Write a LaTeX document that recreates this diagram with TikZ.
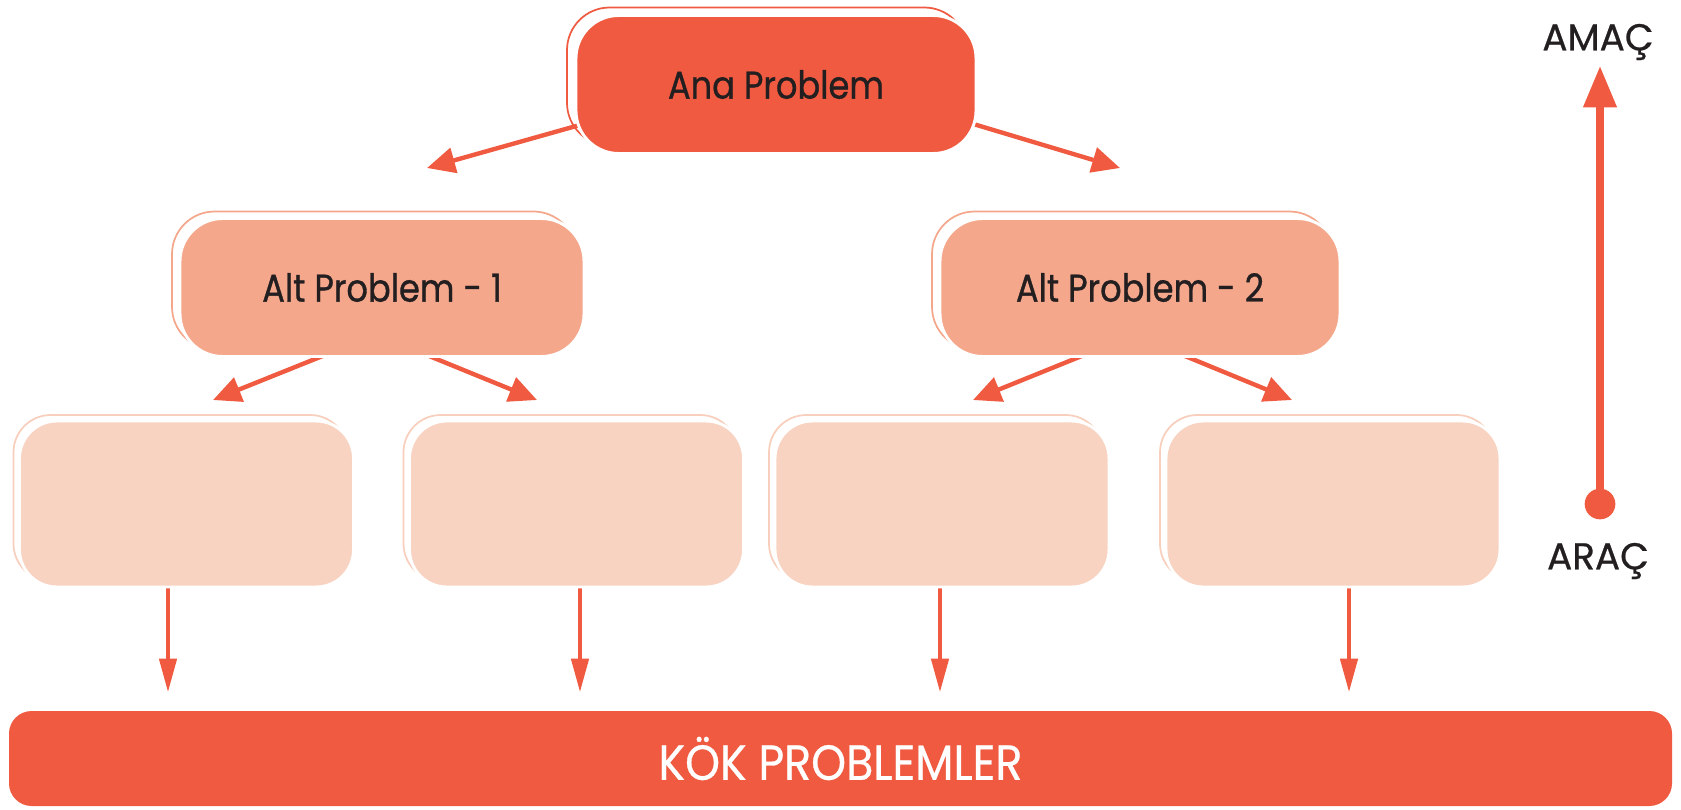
\documentclass[tikz,border=0pt]{standalone}
\usepackage{fontspec}
\setmainfont{Poppins}[FakeStretch=0.87,FakeBold=0.8]
\newfontfamily\kokfont{Poppins}[FakeStretch=0.9,FakeBold=0.6]
\newfontfamily\sidefont{Poppins}[FakeStretch=1.0,FakeBold=0.6]
\usetikzlibrary{arrows.meta,calc}
\pgfdeclarelayer{back}
\pgfdeclarelayer{bg}
\pgfsetlayers{back,bg,main}
\definecolor{dark}{HTML}{EF5A40}
\definecolor{mid}{HTML}{F4A78B}
\definecolor{light}{HTML}{F9D3C1}
\definecolor{txt}{HTML}{231F20}
\newcommand\pxu{0.75pt}
\tikzset{
  box/.style={rectangle, draw=white, line width=2.2pt, inner sep=0pt, outer sep=0pt, text=txt, font=\fontsize{29}{34}\selectfont},
  bigbox/.style={box, rounded corners=32pt, minimum width=400*\pxu, minimum height=138*\pxu},
  leafbox/.style={box, fill=light, rounded corners=28pt, minimum width=334*\pxu, minimum height=166*\pxu},
  ol/.style={draw=#1, line width=1.3pt},
  arr/.style={draw=dark, line width=3.3pt, -{Triangle[length=21pt,width=19pt]}},
  darr/.style={draw=dark, line width=2.6pt, -{Triangle[length=25pt,width=13pt]}},
  varr/.style={draw=dark, line width=5.4pt, -{Triangle[length=31pt,width=24pt]}},
  side/.style={text=txt, font=\sidefont\fontsize{28}{32}\selectfont, inner sep=0pt}
}
\begin{document}
\begin{tikzpicture}[x=0.75pt,y=-0.75pt]
\begin{pgfonlayer}{back}
\fill[white] (0,0) rectangle (1681,810);
\end{pgfonlayer}
\useasboundingbox (0,0) rectangle (1681,810);

% nodes
\node[bigbox, fill=dark] (ana) at (776,84.5) {Ana Problem};
\node[bigbox, fill=mid, minimum width=404*\pxu] (alt1) at (382,287.5) {Alt Problem - 1};
\node[bigbox, fill=mid] (alt2) at (1140,287.5) {Alt Problem - 2};
\node[leafbox] (l1) at (186.5,504) {};
\node[leafbox] (l2) at (576.5,504) {};
\node[leafbox] (l3) at (942,504) {};
\node[leafbox] (l4) at (1333,504) {};
\node[rectangle, fill=dark, rounded corners=17pt, minimum width=1663*\pxu, minimum height=95*\pxu, inner sep=0pt, outer sep=0pt, text=white, font=\kokfont\fontsize{37}{40}\selectfont] (kok) at (840.5,758.5) {KÖK PROBLEMLER};

\node[side] (amac) at (1598,42) {AMAÇ};
\node[side] (arac) at (1598,561) {ARAÇ};
\fill[dark] (1600,504) circle (11.5pt);
\coordinate (dot) at (1600,504);
\coordinate (top) at (1600,66);

% arrow tips
\coordinate (a1) at (427,168);
\coordinate (a2) at (1120,168);
\coordinate (b1) at (213,400);
\coordinate (b2) at (537,400);
\coordinate (b3) at (973,400);
\coordinate (b4) at (1292,400);
\coordinate (c1) at (168,692);
\coordinate (c2) at (580,692);
\coordinate (c3) at (940,692);
\coordinate (c4) at (1349,692);

\begin{pgfonlayer}{bg}
  % offset outlines
  \draw[ol=dark, rounded corners=32pt] ([shift={(-9,-8)}]ana.north west) rectangle ([shift={(-9,-8)}]ana.south east);
  \draw[ol=mid, rounded corners=32pt] ([shift={(-8,-7)}]alt1.north west) rectangle ([shift={(-8,-7)}]alt1.south east);
  \draw[ol=mid, rounded corners=32pt] ([shift={(-8,-7)}]alt2.north west) rectangle ([shift={(-8,-7)}]alt2.south east);
  \foreach \n in {l1,l2,l3,l4}
    \draw[ol=light!90!mid, rounded corners=28pt] ([shift={(-6,-6)}]\n.north west) rectangle ([shift={(-6,-6)}]\n.south east);
  % connectors
  \draw[arr] ($(ana.center)+(-166,32)$) -- (a1);
  \draw[arr] ($(ana.center)+(164,29.5)$) -- (a2);
  \draw[arr] ($(alt1.center)+(-42,61.5)$) -- (b1);
  \draw[arr] ($(alt1.center)+(30,61.5)$) -- (b2);
  \draw[arr] ($(alt2.center)+(-41,61.5)$) -- (b3);
  \draw[arr] ($(alt2.center)+(28,61.5)$) -- (b4);
  \draw[darr] ($(l1.south)+(-18.5,-5)$) -- (c1);
  \draw[darr] ($(l2.south)+(3.5,-5)$) -- (c2);
  \draw[darr] ($(l3.south)+(-2,-5)$) -- (c3);
  \draw[darr] ($(l4.south)+(16,-5)$) -- (c4);
  \draw[varr] (dot) -- (top);
\end{pgfonlayer}
\end{tikzpicture}
\end{document}
